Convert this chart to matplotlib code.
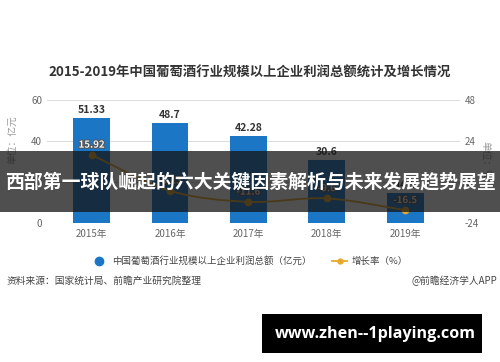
import matplotlib
matplotlib.use("Agg")
import matplotlib.pyplot as plt
import numpy as np
from matplotlib.path import Path
from matplotlib.patches import PathPatch, Rectangle
from matplotlib.lines import Line2D
import matplotlib.patheffects as pe

plt.rcParams['font.family'] = ['Noto Sans CJK SC', 'DejaVu Sans']
plt.rcParams['axes.unicode_minus'] = False

years = ['2015年', '2016年', '2017年', '2018年', '2019年']
profit = [51.33, 48.7, 42.28, 30.6, 14.5]
growth = [15.92, -5.13, -11.6, -9.6, -16.5]
left_ticks = [0, 20, 40, 60]
right_ticks = [-24, 0, 24, 48]

W, H = 500, 362
fig = plt.figure(figsize=(W / 100, H / 100), dpi=100)
fig.patch.set_facecolor('white')

def fx(px):
    return px / W

def fy(py):
    return 1 - py / H

ax = fig.add_axes([fx(47), fy(223), fx(460) - fx(47), fy(100) - fy(223)])
ax2 = ax.twinx()

x = np.arange(len(years))
bar_color = '#1B76C6'
ax.bar(x, profit, width=0.47, color=bar_color, zorder=2)
ax.set_ylim(0, 60)
ax.set_yticks(left_ticks)
ax.set_xlim(-0.57, 4.7)
ax.set_xticks(x)
ax.set_xticklabels(years, fontsize=7, color='#555555')
ax.grid(axis='y', color='#dddddd', lw=0.8, zorder=0)
ax.set_axisbelow(True)
for s in ax.spines.values():
    s.set_visible(False)
ax.tick_params(axis='both', length=0, labelsize=7, colors='#666666')
ax.tick_params(axis='x', pad=4)

for xi, v in zip(x, profit):
    ax.text(xi, v + 1.5, f'{v:g}', ha='center', va='bottom', fontsize=7.5,
            fontweight='bold', color='#333333', zorder=5)

ax2.set_ylim(-24, 48)
ax2.set_yticks(right_ticks)
for s in ax2.spines.values():
    s.set_visible(False)
ax2.tick_params(axis='y', length=0, labelsize=7, colors='#666666')

# smooth line through growth points
line_color = '#E8A92A'
gx = x.astype(float)
gy = np.array(growth, dtype=float)
verts = [(gx[0], gy[0])]
codes = [Path.MOVETO]
n = len(gx)
for i in range(n - 1):
    p0 = np.array([gx[max(i - 1, 0)], gy[max(i - 1, 0)]])
    p1 = np.array([gx[i], gy[i]])
    p2 = np.array([gx[i + 1], gy[i + 1]])
    p3 = np.array([gx[min(i + 2, n - 1)], gy[min(i + 2, n - 1)]])
    c1 = p1 + (p2 - p0) / 6
    c2 = p2 - (p3 - p1) / 6
    verts += [tuple(c1), tuple(c2), tuple(p2)]
    codes += [Path.CURVE4] * 3
ax2.add_patch(PathPatch(Path(verts, codes), facecolor='none', edgecolor=line_color,
                        lw=1.3, zorder=4))
ax2.plot(gx, gy, 'o', color=line_color, ms=4.5, zorder=5)
for xi, v in zip(gx, gy):
    ax2.text(xi, v + 3, f'{v:g}', ha='center', va='bottom', fontsize=7, fontweight='bold',
             color='#f2f2f2', zorder=6,
             path_effects=[pe.withStroke(linewidth=1.5, foreground='#555555')])

# axis unit labels
fig.text(fx(12), fy(140), '单位：亿元', rotation=90, ha='center', va='center',
         fontsize=7, color='#999999')
fig.text(fx(485), fy(160), '单位：%', rotation=270, ha='center', va='center',
         fontsize=7, color='#999999')

# title
fig.text(0.5, fy(73), '2015-2019年中国葡萄酒行业规模以上企业利润总额统计及增长情况',
         ha='center', va='center', fontsize=9.6, fontweight='bold', color='#333333')

# legend
handles = [
    Line2D([], [], marker='o', ls='none', color=bar_color, ms=6),
    Line2D([], [], marker='o', color=line_color, ms=3.5, lw=1.3),
]
fig.legend(handles, ['中国葡萄酒行业规模以上企业利润总额（亿元）', '增长率（%）'],
           loc='center', bbox_to_anchor=(0.5, fy(261)), ncol=2, frameon=False,
           fontsize=6.8, handlelength=1.6, columnspacing=2.2, handletextpad=0.5,
           labelcolor='#444444')

# source
fig.text(fx(7), fy(281), '资料来源：国家统计局、前瞻产业研究院整理', ha='left', va='center',
         fontsize=7, color='#444444')
fig.text(fx(497), fy(281), '@前瞻经济学人APP', ha='right', va='center',
         fontsize=7, color='#444444')

# overlay band
fig.patches.append(Rectangle((0, fy(212)), 1, fy(151) - fy(212), transform=fig.transFigure,
                             facecolor='#141414', alpha=0.75, zorder=10))
fig.text(0.5, fy(182), '西部第一球队崛起的六大关键因素解析与未来发展趋势展望',
         ha='center', va='center', fontsize=13.6, fontweight='bold', color='white', zorder=11)

# bottom black box
fig.patches.append(Rectangle((fx(262), fy(353)), fx(482) - fx(262), fy(314) - fy(353),
                             transform=fig.transFigure, facecolor='black', zorder=10))
fig.text(fx(375), fy(333.5), 'www.zhen--1playing.com', ha='center', va='center',
         fontsize=11.6, fontweight='bold', color='white', zorder=11,
         family=['Open Sans', 'DejaVu Sans'])

fig.savefig('out.png', dpi=100)
